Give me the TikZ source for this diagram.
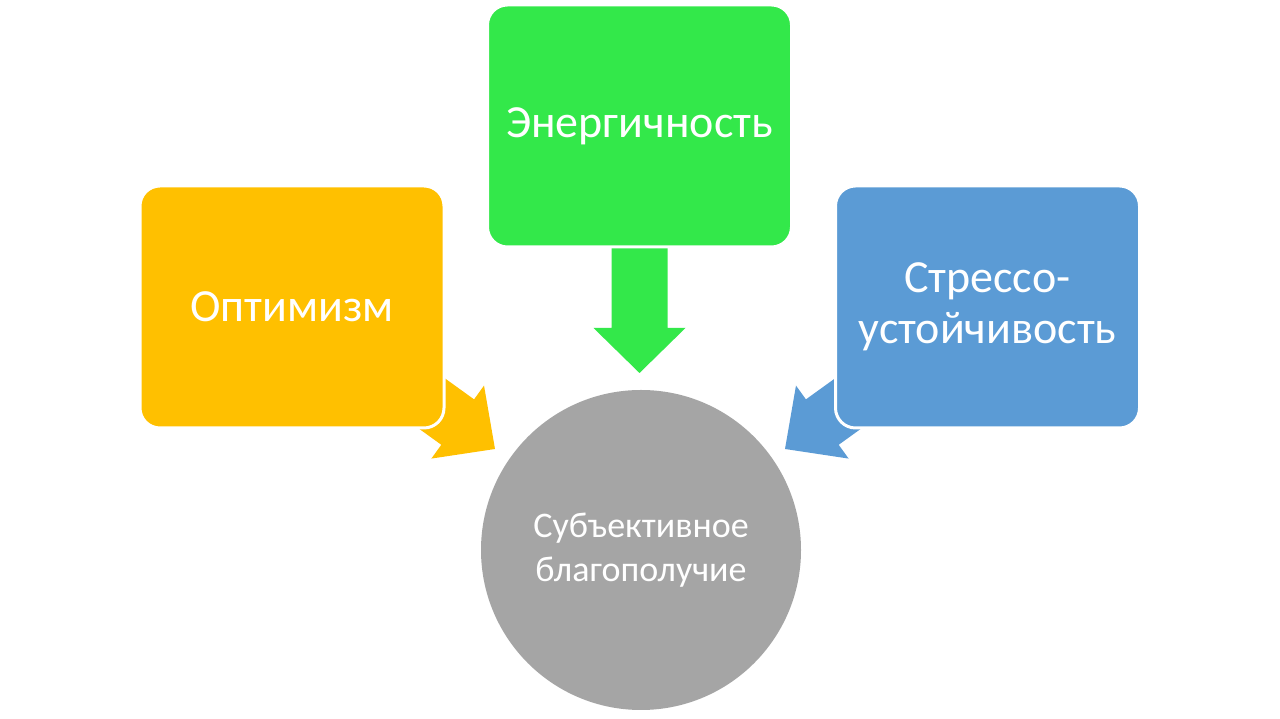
\documentclass[tikz,border=0pt]{standalone}
\usepackage{fontspec}
\setmainfont{Carlito}
\definecolor{cOrange}{HTML}{FFC000}
\definecolor{cGreen}{HTML}{33E84A}
\definecolor{cBlue}{HTML}{5B9BD5}
\definecolor{cGray}{HTML}{A5A5A5}
\begin{document}
\begin{tikzpicture}[x=1pt,y=1pt,
  box/.style={draw=white, line width=3pt, rounded corners=20pt, minimum width=304pt, minimum height=242pt, text=white, align=center, font=\fontsize{46}{51}\selectfont, inner sep=0pt},
  blk/.style={draw=none}]
\useasboundingbox (0,0) rectangle (1280,719);
\fill[white] (0,0) rectangle (1280,719);
% block arrows (drawn first, partly hidden by boxes)
\begin{scope}[shift={(495,270)}, rotate=-35.8]
  \fill[cOrange] (0,0) -- (-46,45) -- (-46,28) -- (-170,28) -- (-170,-28) -- (-46,-28) -- (-46,-45) -- cycle;
\end{scope}
\begin{scope}[shift={(785,270)}, rotate=215.8]
  \fill[cBlue] (0,0) -- (-46,45) -- (-46,28) -- (-170,28) -- (-170,-28) -- (-46,-28) -- (-46,-45) -- cycle;
\end{scope}
\begin{scope}[shift={(639.5,346)}, rotate=-90]
  \fill[cGreen] (0,0) -- (-45,46) -- (-45,28) -- (-140,28) -- (-140,-28) -- (-45,-28) -- (-45,-46) -- cycle;
\end{scope}
\node[box, fill=cOrange] (opt) at (292,412) {Оптимизм};
\node[box, fill=cGreen] (ener) at (639.5,593) {Энергичность};
\node[box, fill=cBlue] (stress) at (987.5,412) {Стрессо-\\устойчивость};
\node[circle, fill=cGray, minimum size=320pt, inner sep=0pt, text=white, align=center, font=\fontsize{36}{44}\selectfont] (sw) at (641,169) {Субъективное\\благополучие};
\end{tikzpicture}
\end{document}
